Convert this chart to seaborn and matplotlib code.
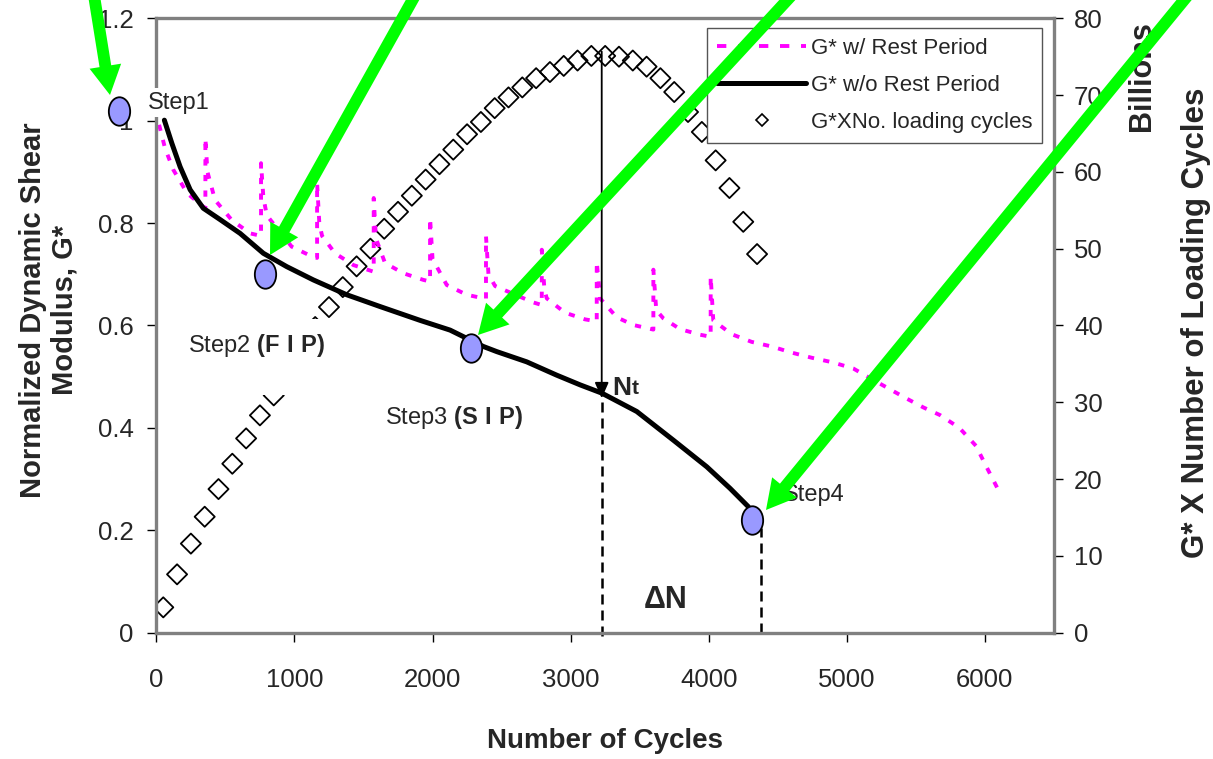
import seaborn as sns
import matplotlib.pyplot as plt
from matplotlib.lines import Line2D
from matplotlib.markers import MarkerStyle
from matplotlib.path import Path
from matplotlib.transforms import Affine2D

# G* without rest period (normalized)
cycles_norest = [58, 112, 172, 245, 340, 461, 606, 775, 944, 1137, 1379, 1620, 1910, 2127,
                 2368, 2465, 2682, 2899, 3069, 3225, 3479, 3744, 3986, 4154, 4287]
g_norest = [1.001, 0.956, 0.910, 0.865, 0.829, 0.807, 0.780, 0.741, 0.715, 0.689, 0.660, 0.637,
            0.610, 0.591, 0.559, 0.549, 0.529, 0.503, 0.484, 0.468, 0.432, 0.376, 0.324, 0.282, 0.246]

# G* with rest period (jumps after each rest)
cycles_rest = [20, 63, 123, 224, 340, 355, 355, 370, 425, 546, 678, 758, 758, 775, 800, 980,
               1125, 1164, 1164, 1180, 1200, 1294, 1427, 1574, 1574, 1590, 1656, 1789, 1934,
               1982, 1982, 2000, 2103, 2248, 2387, 2387, 2405, 2453, 2600, 2730, 2791, 2791,
               2810, 2827, 2959, 3104, 3189, 3189, 3213, 3334, 3454, 3599, 3599, 3620, 3671,
               3792, 3937, 4014, 4014, 4033, 4166, 4311, 4456, 4601, 4746, 4898, 5047, 5156,
               5289, 5421, 5554, 5675, 5815, 5935, 6013, 6108]
g_rest = [0.992, 0.946, 0.904, 0.858, 0.832, 0.830, 0.966, 0.900, 0.845, 0.806, 0.780, 0.775,
          0.917, 0.850, 0.815, 0.754, 0.735, 0.732, 0.878, 0.800, 0.775, 0.741, 0.718, 0.705,
          0.849, 0.770, 0.722, 0.702, 0.689, 0.686, 0.810, 0.730, 0.679, 0.660, 0.652, 0.774,
          0.700, 0.677, 0.660, 0.645, 0.640, 0.748, 0.670, 0.653, 0.625, 0.612, 0.608, 0.725,
          0.653, 0.616, 0.601, 0.592, 0.709, 0.630, 0.614, 0.593, 0.582, 0.578, 0.696, 0.610,
          0.583, 0.568, 0.559, 0.547, 0.537, 0.528, 0.516, 0.499, 0.479, 0.459, 0.440, 0.425,
          0.400, 0.365, 0.323, 0.273]

# G* x N (billions)
cycles_gn = [50, 150, 250, 350, 450, 550, 650, 750, 850, 950, 1050, 1150, 1250, 1350, 1450,
             1550, 1650, 1750, 1850, 1950, 2050, 2150, 2250, 2350, 2450, 2550, 2650, 2750,
             2850, 2950, 3050, 3150, 3250, 3350, 3450, 3550, 3650, 3750, 3850, 3950, 4050,
             4150, 4250, 4350]
gn_billions = [3.3, 7.6, 11.6, 15.1, 18.7, 22.0, 25.3, 28.3, 30.9, 33.8, 36.6, 39.8, 42.4, 45.0,
               47.7, 50.0, 52.6, 54.8, 56.9, 59.0, 61.0, 62.9, 64.9, 66.5, 68.3, 69.7, 71.0,
               72.2, 73.0, 73.8, 74.5, 75.1, 75.1, 75.0, 74.5, 73.7, 72.2, 70.4, 67.8, 65.2,
               61.5, 57.9, 53.5, 49.3]

# damage steps
step_x = [-274, 787, 2277, 4316]
step_y = [1.018, 0.701, 0.556, 0.220]
nt_x = 3225
nt_y = 0.458
step4_x = 4377

legend_labels = ["G* w/ Rest Period", "G* w/o Rest Period", "G*XNo. loading cycles"]

# green callout arrows, figure pixels (tail, tip)
arrow_tails = [(92, 776), (422, 776), (803, 776), (1198, 776)]
arrow_tips = [(110, 664), (270, 504), (478, 424), (766, 249)]

sns.set_style("white")
plt.rcParams['font.family'] = ['Liberation Sans', 'DejaVu Sans']
plt.rcParams['mathtext.fontset'] = 'custom'
plt.rcParams['mathtext.rm'] = 'Liberation Sans'
plt.rcParams['mathtext.bf'] = 'Liberation Sans:bold'

fig = plt.figure(figsize=(12.13, 7.59), dpi=100)
fig.patch.set_facecolor('white')
ax = fig.add_axes([0.1289, 0.1664, 0.74, 0.8095])
ax2 = ax.twinx()
ax.set_zorder(ax2.get_zorder() + 1)
ax.patch.set_visible(False)

magenta = '#FF00FF'
sns.scatterplot(x=cycles_gn, y=gn_billions, ax=ax2, marker='D', s=105, facecolors='none',
                edgecolor='black', linewidth=1.3, legend=False)

sns.lineplot(x=cycles_rest, y=g_rest, ax=ax, color=magenta, lw=2.8, linestyle=(0, (1.6, 2.4)),
             sort=False, estimator=None, errorbar=None)
sns.lineplot(x=cycles_norest, y=g_norest, ax=ax, color='black', lw=3.6,
             sort=False, estimator=None, errorbar=None)

# Nt marker and the two dashed lines
ax.annotate('', xy=(nt_x, nt_y), xytext=(nt_x, 1.135),
            arrowprops=dict(arrowstyle='-|>,head_length=0.95,head_width=0.42', color='black',
                            lw=1.3, shrinkA=0, shrinkB=0, mutation_scale=10))
ax.vlines([nt_x], -0.006, nt_y, colors='black', linestyles=(0, (4, 2.4)), lw=1.8, clip_on=False)
ax.vlines([step4_x], 0, 0.204, colors='black', linestyles=(0, (4, 2.4)), lw=1.8)

ellipse = MarkerStyle(Path.unit_circle().transformed(Affine2D().scale(0.75, 1.0)))
sns.scatterplot(x=step_x, y=step_y, ax=ax, marker=ellipse, s=420, color='#9999FF',
                edgecolor='black', linewidth=1.3, zorder=8, clip_on=False, legend=False)

box = dict(boxstyle='square,pad=0.15', fc='white', ec='none')
ax.text(-60, 1.035, "Step1", fontsize=17, ha='left', va='center', bbox=box, zorder=7)
ax.text(230, 0.588, "Step2 $\\mathbf{(F\\ I\\ P)}$\n", fontsize=17, ha='left', va='top',
        bbox=dict(boxstyle='square,pad=0.45', fc='white', ec='none'), zorder=7)
ax.text(1656, 0.421, "Step3 $\\mathbf{(S\\ I\\ P)}$", fontsize=17, ha='left', va='center',
        bbox=box, zorder=7)
ax.text(4536, 0.269, "Step4", fontsize=17, ha='left', va='center', zorder=7)
ax.text(3300, 0.477, "N", fontsize=19, fontweight='bold', ha='left', va='center', zorder=7)
ax.text(3440, 0.476, "t", fontsize=15, fontweight='bold', ha='left', va='center', zorder=7)
ax.text(3691, 0.064, "\u0394N", fontsize=22, fontweight='bold', ha='center', va='center')

ax.set_xlim(0, 6500)
ax.set_ylim(0, 1.2)
ax2.set_ylim(0, 80)
ax.set_xticks([0, 1000, 2000, 3000, 4000, 5000, 6000])
ax.set_yticks([0, 0.2, 0.4, 0.6, 0.8, 1.0, 1.2])
ax.set_yticklabels(["0", "0.2", "0.4", "0.6", "0.8", "1", "1.2"])
ax2.set_yticks([0, 10, 20, 30, 40, 50, 60, 70, 80])

ax.tick_params(axis='both', direction='out', length=6.5, width=1, color='black',
               labelsize=18.5, bottom=True, left=True, right=False, top=False)
ax.tick_params(axis='x', pad=19)
ax.tick_params(axis='y', pad=10)
ax2.tick_params(axis='y', direction='out', length=6.5, width=1, color='black',
                labelsize=18.5, right=True, left=False, pad=8)

for sp in ax.spines.values():
    sp.set_color('#808080')
    sp.set_linewidth(2.4)
for sp in ax2.spines.values():
    sp.set_visible(False)

ax.set_xlabel("Number of Cycles", fontsize=20, fontweight='bold')
ax.xaxis.set_label_coords(0.5, -0.155)
ax.set_ylabel("Normalized Dynamic Shear\nModulus, G*", fontsize=21, fontweight='bold',
              linespacing=1.15)
ax.yaxis.set_label_coords(-0.087, 0.525)
ax2.set_ylabel("G* X Number of Loading Cycles", fontsize=22.5, fontweight='bold')
ax2.yaxis.set_label_coords(1.141, 0.504)
ax2.text(1.098, 0.906, "Billions", transform=ax2.transAxes, rotation=90, ha='center',
         va='center', fontsize=22, fontweight='bold')

handles = [Line2D([], [], color=magenta, lw=2.8, ls=(0, (2.4, 3.0))),
           Line2D([], [], color='black', lw=3.6),
           Line2D([], [], ls='none', marker='D', ms=6.5, mfc='none', mec='black', mew=1.2)]
leg = ax.legend(handles, legend_labels, loc='upper right', bbox_to_anchor=(0.987, 0.984),
                fontsize=16, frameon=True, fancybox=False, edgecolor='#555555',
                framealpha=1, borderpad=0.45, handlelength=4.0, handletextpad=0.2,
                labelspacing=0.72, borderaxespad=0)
leg.get_frame().set_linewidth(1.0)
leg.set_zorder(9)

for tail, tip in zip(arrow_tails, arrow_tips):
    ax.annotate('', xy=tip, xycoords='figure pixels', xytext=tail, textcoords='figure pixels',
                annotation_clip=False, zorder=10,
                arrowprops=dict(arrowstyle='simple,head_length=21,head_width=23,tail_width=8.5',
                                mutation_scale=1, fc='#00FF00', ec='none', lw=0,
                                shrinkA=0, shrinkB=0))

fig.savefig("out.png", dpi=100, facecolor='white')
